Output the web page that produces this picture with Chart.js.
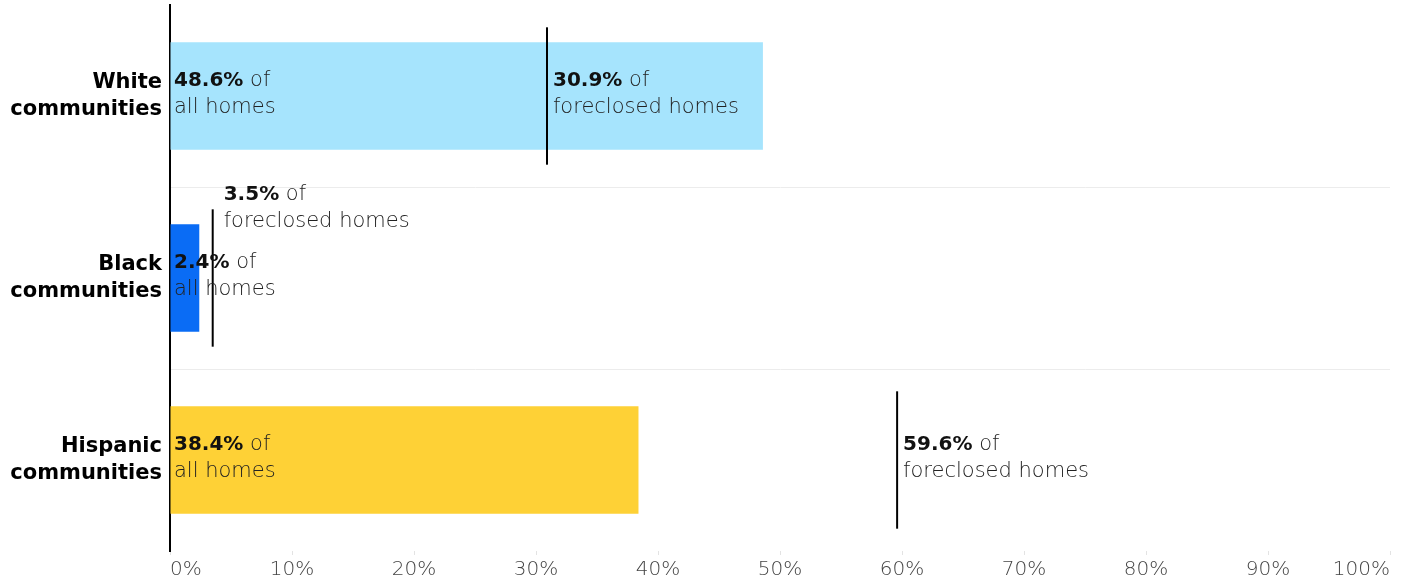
<!DOCTYPE html>
<html>
<head>
<meta charset="utf-8">
<script src="https://cdn.jsdelivr.net/npm/chart.js@4"></script>
<style>
  html, body { margin: 0; padding: 0; background: #fff; }
  #wrap { width: 1406px; height: 580px; }
</style>
</head>
<body>
<div id="wrap"><canvas id="chart"></canvas></div>
<script>
// Community groups (two-line axis labels)
const groups = [["White", "communities"], ["Black", "communities"], ["Hispanic", "communities"]];
// Share of all homes, %
const allHomes = [48.6, 2.4, 38.4];
// Share of foreclosed homes, %
const foreclosed = [30.9, 3.5, 59.6];
const barColors = ["#a6e4fd", "#0a6cf5", "#fed136"];
// x axis range and step, %
const xMin = 0, xMax = 100, xStep = 10;

const FONT = "'DejaVu Sans', sans-serif";

// Writes "NN.N% of" on one line and the caption below it, returns the right edge
function drawLabel(ctx, left, cy, value, caption) {
    ctx.textBaseline = "middle";
    ctx.textAlign = "left";
    const head = value.toFixed(1) + "%";
    ctx.font = "bold 20px " + FONT;
    ctx.fillStyle = "#111";
    ctx.fillText(head, left, cy - 15);
    const w1 = ctx.measureText(head).width;
    ctx.font = "200 21px " + FONT;
    ctx.fillStyle = "#222";
    ctx.fillText(" of", left + w1, cy - 15);
    const w2 = ctx.measureText(" of").width;
    ctx.fillText(caption, left, cy + 12);
    const w3 = ctx.measureText(caption).width;
    return left + Math.max(w1 + w2, w3);
}

// Vertical marker for the foreclosed share plus both text labels
const markerPlugin = {
    id: "foreclosedMarkers",
    afterDatasetsDraw(chart) {
        const ctx = chart.ctx;
        const x = chart.scales.x;
        const meta = chart.getDatasetMeta(0);
        ctx.save();
        meta.data.forEach((bar, i) => {
            const cy = bar.y;
            const half = bar.height / 2;
            const lx = x.getPixelForValue(foreclosed[i]);

            ctx.beginPath();
            ctx.moveTo(lx, cy - half - 15);
            ctx.lineTo(lx, cy + half + 15);
            ctx.lineWidth = 2;
            ctx.strokeStyle = "#000";
            ctx.stroke();

            const endAll = drawLabel(ctx, x.getPixelForValue(0) + 4, cy, allHomes[i], "all homes");
            // if the marker sits inside the first label, put its text above the bar
            if (lx + 6 < endAll + 10) {
                drawLabel(ctx, lx + 11, cy - 68, foreclosed[i], "foreclosed homes");
            } else {
                drawLabel(ctx, lx + 6, cy, foreclosed[i], "foreclosed homes");
            }
        });
        ctx.restore();
    }
};

const ctx = document.getElementById("chart").getContext("2d");
new Chart(ctx, {
    type: "bar",
    data: {
        labels: groups,
        datasets: [{
            label: "Share of all homes",
            data: allHomes,
            backgroundColor: barColors,
            borderWidth: 0,
            categoryPercentage: 1,
            barPercentage: 0.59
        }]
    },
    options: {
        indexAxis: "y",
        responsive: true,
        maintainAspectRatio: false,
        animation: false,
        layout: { padding: { top: 5, right: 16, left: 0, bottom: 0 } },
        plugins: {
            legend: { display: false },
            tooltip: { enabled: false }
        },
        scales: {
            x: {
                min: xMin,
                max: xMax,
                afterFit: (scale) => {
                    scale.height = 29;
                    scale.paddingLeft = 0;
                    scale.paddingRight = 0;
                },
                border: { display: false },
                grid: {
                    drawOnChartArea: false,
                    drawTicks: true,
                    tickLength: 4,
                    color: "#e3e3e3"
                },
                ticks: {
                    stepSize: xStep,
                    align: "inner",
                    padding: 3,
                    color: "#444",
                    font: { family: FONT, size: 20, weight: "200" },
                    callback: (v) => v + "%"
                }
            },
            y: {
                afterFit: (scale) => {
                    scale.width = 170;
                    scale.paddingTop = 0;
                    scale.paddingBottom = 0;
                },
                border: { display: true, color: "#000", width: 2 },
                grid: {
                    offset: true,
                    drawTicks: false,
                    color: (c) => (c.index === 1 || c.index === 2) ? "#ececec" : "rgba(0,0,0,0)"
                },
                ticks: {
                    padding: 8,
                    color: "#000",
                    font: { family: FONT, size: 21, weight: "bold", lineHeight: 1.3 }
                }
            }
        }
    },
    plugins: [markerPlugin]
});
</script>
</body>
</html>
